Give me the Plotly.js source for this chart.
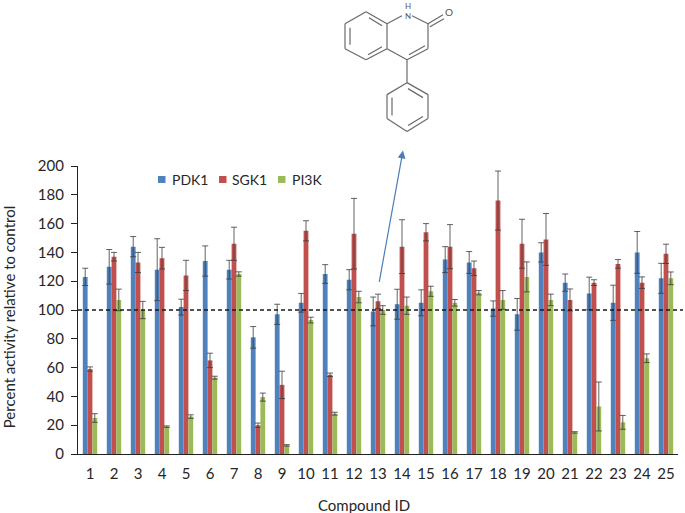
<!DOCTYPE html>
<html><head><meta charset="utf-8">
<script src="https://cdn.plot.ly/plotly-3.0.1.min.js"></script>
<style>html,body{margin:0;padding:0;background:#fff}</style></head>
<body><div id="chart" style="width:685px;height:513px"></div>
<script>
const compoundIds = ["1","2","3","4","5","6","7","8","9","10","11","12","13","14","15","16","17","18","19","20","21","22","23","24","25"];
const pdk1 = [123,130,144,128,102,134,128,81,97,105,125,121,99,104,105,135,133,101,97,140,119,111.5,105,140,122];
const pdk1Err = [6,12,7,21.5,5.5,10.5,6.5,7.5,7,6.5,6.5,7,10,10.4,9,9,7.6,5.3,11,6.7,6,11.3,12.2,14.5,10.4];
const sgk1 = [59,137,133,136,124,65,146,20,48,155,55,153,106,144,154,144,129,176,146,149,107,119,132,119,139];
const sgk1Err = [1.5,3,7,7.5,10.5,5,11.5,1.5,9.5,7,1.2,24.5,5,18.7,6,15.3,5,20.5,17,18,7.6,2,3,4,6.7];
const pi3k = [25,107,100,19,26,53,125,39.5,6,93,28,109,100,103,113,105,112,107,123,107,15,33,22,66.5,122];
const pi3kErr = [3,7.5,6,0.5,1.2,1,1.5,2.8,0.5,2,1,4,3,6,3.5,2.3,1.5,6.5,10.4,4,0.5,17,4.8,3,4.4];
const seriesNames = ["PDK1","SGK1","PI3K"];
const seriesColors = ["#4F81BD","#C0504D","#9BBB59"];

const W = 685, H = 513, L = 78, R = 7, T = 165.5, B = 59;
const fontFam = "Lato, 'Open Sans', sans-serif";
const txt = "#262626";
const px = x => (x - L) / (W - L - R);
const py = y => (H - B - y) / (H - T - B);

function series(i, y, err) {
  return {type:"bar", name:seriesNames[i], x:compoundIds, y, marker:{color:seriesColors[i]},
    error_y:{type:"data", array:err, visible:true, color:"rgba(60,60,60,0.8)", thickness:1, width:3}};
}
const traces = [series(0,pdk1,pdk1Err), series(1,sgk1,sgk1Err), series(2,pi3k,pi3kErr)];

// Molecule (4-phenylquinolin-2-one) bonds in page pixels
const bonds = [
  [366,11,387,23],[387,23,387,48],[387,48,366,59],[366,59,345,48],[345,48,345,23],[345,23,366,11],
  [369,17,382,25],[382,46,368,54],[350,44,350,27],
  [387,23,402,15],[412,15,428,23],[428,23,428,48],[428,48,407,59],[407,59,387,48],
  [409,54,425,45],[428,23,443,14],[430,26,444,18],
  [407,59,407,82],[407,82,428,94],[428,94,428,118],[428,118,407,131],[407,131,387,118],[387,118,387,94],[387,94,407,82],
  [408,88,423,97],[423,116,408,125],[392,115,392,97]
];
const shapes = bonds.map(b => ({type:"line", xref:"paper", yref:"paper",
  x0:px(b[0]), y0:py(b[1]), x1:px(b[2]), y1:py(b[3]), line:{color:"#6a6a6a", width:1.2}}));
shapes.push({type:"line", xref:"paper", yref:"y", x0:0, x1:px(683), y0:100, y1:100,
  line:{color:"#1a1a1a", width:1.3, dash:"4px,3px"}});

// Legend keys and labels, placed as in the reference
const legendKeyX = [158,219,278];
const legendTextX = [170,230,290];
const legendY = 179;
seriesNames.forEach((n,i) => shapes.push({type:"rect", xref:"paper", yref:"paper", line:{width:0},
  x0:px(legendKeyX[i]), x1:px(legendKeyX[i]+7.5), y0:py(legendY-3.5), y1:py(legendY+3.5), fillcolor:seriesColors[i]}));

const label = (x,y,text,size,color,extra) => Object.assign({xref:"paper", yref:"paper", x:px(x), y:py(y), text,
  xanchor:"center", yanchor:"middle", showarrow:false, font:{family:fontFam,size,color}}, extra||{});
const annotations = [
  label(407.5,10,"H<br>N",8,"#555"),
  label(449,11.5,"O",10,"#555"),
  {xref:"paper", yref:"paper", x:px(403), y:py(150), ax:px(379), ay:py(283), axref:"paper", ayref:"paper",
   text:"", showarrow:true, arrowhead:2, arrowsize:1.3, arrowwidth:1.2, arrowcolor:"#4A7EBB"},
  label(9,317,"Percent activity relative to control",15,txt,{textangle:-90}),
  label(364,505,"Compound ID",15,txt)
];
seriesNames.forEach((n,i) => annotations.push(label(legendTextX[i],legendY,n,14,txt,{xanchor:"left"})));

Plotly.newPlot("chart", traces, {
  width:W, height:H, margin:{l:L, r:R, t:T, b:B},
  paper_bgcolor:"#fff", plot_bgcolor:"#fff",
  font:{family:fontFam, size:15, color:txt},
  barmode:"group", bargap:0.4, bargroupgap:0,
  showlegend:false,
  xaxis:{type:"category", showgrid:false, ticks:"outside", ticklen:6, tickcolor:"rgba(0,0,0,0)", showline:true, linecolor:"#222", linewidth:1.2,
    zeroline:false, tickfont:{size:15}, automargin:false},
  yaxis:{range:[0,200], tick0:0, dtick:20, showgrid:false, zeroline:false, ticks:"outside", ticklen:6, ticklabelstandoff:4,
    tickcolor:"#222", showline:true, linecolor:"#222", linewidth:1.2, tickfont:{size:15}, automargin:false},
  shapes, annotations
}, {displayModeBar:false});
</script></body></html>
